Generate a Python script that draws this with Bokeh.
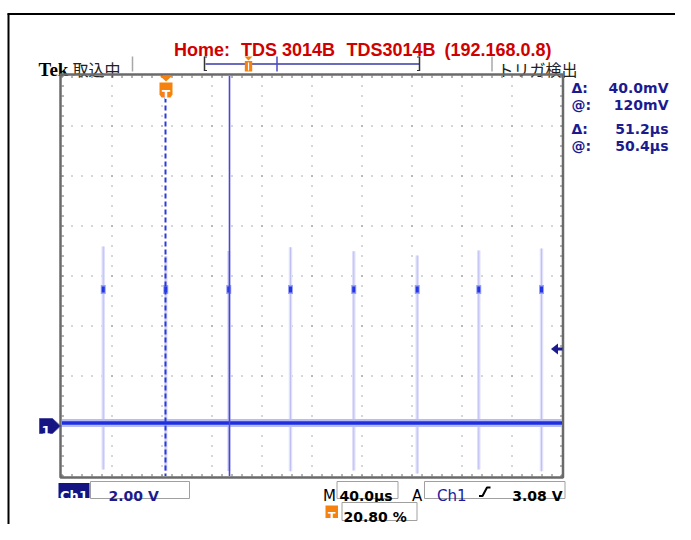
from bokeh.plotting import figure
from bokeh.models import Range1d
from bokeh.core.properties import value
from bokeh.embed import file_html
from bokeh.resources import INLINE

# ---------------- data ----------------
TIME_PER_DIV = 40.0                 # µs / div
VOLTS_PER_DIV = 2.0
N_HDIV = 10
N_VDIV = 8
GROUND_DIV = 1                      # Ch1 ground marker, divisions above the bottom
trace_level_v = 0.12
spike_times_us = [33.0, 83.0, 133.4, 182.8, 233.4, 284.2, 333.4, 383.6]
spike_peak_v = [5.46, 5.46, 5.46, 5.46, 5.46, 5.46, 5.46, 5.46]
spike_top_v = [7.18, 6.80, 7.00, 7.15, 6.99, 6.82, 7.02, 7.10]
spike_bottom_v = [-1.74, -1.80, -1.80, -1.81, -1.78, -1.90, -1.74, -1.81]
cursor_t_us = [82.8, 134.0]
trigger_pos_us = 83.2
trigger_level_v = 3.08
title_parts = ["Home:", "TDS 3014B", "TDS3014B", "(192.168.0.8)"]
readout_labels = ["Δ:", "@:", "Δ:", "@:"]
readout_values = ["40.0mV", "120mV", "51.2µs", "50.4µs"]
ch_scale_text = "2.00 V"
time_scale_text = "40.0µs"
trig_level_text = "3.08 V"
trig_pos_text = "20.80 %"

# ---------------- layout ----------------
W, H = 675, 524
OFF = 0                      # picture offset of the canvas
GX0, GY0 = 61.5, 75.5        # grid top-left in canvas px
DIV = 50.0                   # px per division

top_v = (N_VDIV - GROUND_DIV) * VOLTS_PER_DIV
bot_v = -GROUND_DIV * VOLTS_PER_DIV
x_start = -GX0 / DIV * TIME_PER_DIV
x_end = (W - GX0) / DIV * TIME_PER_DIV
y_end = top_v + GY0 / DIV * VOLTS_PER_DIV
y_start = top_v - (H - GY0) / DIV * VOLTS_PER_DIV


def X(px):  # picture px -> data
    return (px - OFF - GX0) / DIV * TIME_PER_DIV


def Y(py):
    return top_v - (py - OFF - GY0) / DIV * VOLTS_PER_DIV


p = figure(width=W, height=H, x_range=Range1d(x_start, x_end), y_range=Range1d(y_start, y_end),
           output_backend="svg", toolbar_location=None, min_border=0,
           x_axis_location=None, y_axis_location=None)
p.grid.visible = False
p.outline_line_color = None
p.background_fill_color = "white"
p.border_fill_color = "white"


def seg(x0, y0, x1, y1, color, w=1.0, dash="solid"):
    p.segment(x0=[x0], y0=[y0], x1=[x1], y1=[y1], line_color=color, line_width=w, line_dash=dash)


def box(px0, py0, px1, py1, fill, line=None, lw=1.0):
    p.quad(left=[X(px0)], right=[X(px1)], top=[Y(py0)], bottom=[Y(py1)],
           fill_color=fill, line_color=line, line_width=lw)


def txt(px, py, s, font="DejaVu Sans", size=14, color="black", style="normal", align="left",
        baseline="alphabetic"):
    p.text(x=[X(px)], y=[Y(py)], text=[s], text_font=value(font), text_font_size=f"{size}px",
           text_font_style=style, text_color=color, text_align=align, text_baseline=baseline)


NAVY = "#1b1b8f"
ORANGE = "#f5820f"
GRAY = "#5e5e5e"

# outer frame
seg(X(7), Y(13.5), X(691), Y(13.5), "black", 2)
seg(X(8), Y(13), X(8), Y(540), "black", 2)

# title
title_x = [173.5, 240.5, 346, 444]
for s, xx in zip(title_parts, title_x):
    txt(xx, 49.5, s, font="Liberation Sans", size=18, color="#d00000", style="bold")

# status line
txt(38, 69, "Tek", font="Liberation Serif", size=19, style="bold")
txt(72, 68.5, "取込中", font="Noto Sans CJK JP", size=16, color="#222222")
seg(X(132), Y(56), X(132), Y(71), "#a8a8a8", 1.5)
seg(X(491.5), Y(56), X(491.5), Y(71), "#a8a8a8", 1.5)
txt(497, 68.5, "トリガ検出", font="Noto Sans CJK JP", size=16, color="#222222")

# record bar
seg(X(205), Y(63.5), X(418.5), Y(63.5), "#3a3aa8", 1.5)
seg(X(204), Y(56), X(204), Y(70.5), "#333333", 1.5)
seg(X(204), Y(56.5), X(206.5), Y(56.5), "#333333", 1)
seg(X(204), Y(70), X(206.5), Y(70), "#333333", 1)
seg(X(419), Y(56), X(419), Y(70.5), "#333333", 1.5)
seg(X(416.5), Y(56.5), X(419), Y(56.5), "#333333", 1)
seg(X(416.5), Y(70), X(419), Y(70), "#333333", 1)
seg(X(276.5), Y(56), X(276.5), Y(71), "#4a4ac8", 1.5)
p.patch(x=[X(244), X(252), X(248)], y=[Y(56), Y(56), Y(60)], fill_color=ORANGE, line_color=None)
box(244.3, 60.5, 251.7, 71, ORANGE)
seg(X(248), Y(62), X(248), Y(70), "white", 1.2)

# grid dots
vx = [[k * TIME_PER_DIV, k * TIME_PER_DIV] for k in range(1, N_HDIV)]
vy = [[Y(75), bot_v] for k in range(1, N_HDIV)]
p.multi_line(xs=vx, ys=vy, line_color=GRAY, line_width=1, line_dash="1 9")
hy = [[bot_v + k * VOLTS_PER_DIV] * 2 for k in range(1, N_VDIV)]
hx = [[X(61), N_HDIV * TIME_PER_DIV] for k in range(1, N_VDIV)]
p.multi_line(xs=hx, ys=hy, line_color=GRAY, line_width=1, line_dash="1 9")

# graticule border with ruler ticks
p.quad(left=[X(60)], right=[X(562.5)], top=[Y(74)], bottom=[Y(477)], fill_color=None,
       line_color="#6a6a6a", line_width=2.5)
tx0, tx1, ty0, ty1 = [], [], [], []
for k in range(0, 5 * N_HDIV + 1):
    xx = X(61.5 + 10 * k)
    tx0 += [xx, xx]; tx1 += [xx, xx]
    ty0 += [Y(75), Y(476)]; ty1 += [Y(77.5), Y(473.5)]
for k in range(0, 5 * N_VDIV + 1):
    yy = Y(75.5 + 10 * k)
    tx0 += [X(61), X(562)]; tx1 += [X(63.5), X(559.5)]
    ty0 += [yy, yy]; ty1 += [yy, yy]
p.segment(x0=tx0, y0=ty0, x1=tx1, y1=ty1, line_color="#6a6a6a", line_width=1)

# spikes (faint persistence) and their dots
p.segment(x0=spike_times_us, y0=spike_top_v, x1=spike_times_us, y1=spike_bottom_v,
          line_color="#e0e0fb", line_width=3.5)
p.segment(x0=spike_times_us, y0=spike_top_v, x1=spike_times_us, y1=spike_bottom_v,
          line_color="#c0c0f4", line_width=1)
p.rect(x=spike_times_us, y=spike_peak_v, width=5, height=9, width_units="screen",
       height_units="screen", fill_color="#9aa2f4", line_color=None)
p.rect(x=spike_times_us, y=spike_peak_v, width=3, height=6, width_units="screen",
       height_units="screen", fill_color="#2236e6", line_color=None)

# trace
p.line(x=[0, N_HDIV * TIME_PER_DIV], y=[trace_level_v, trace_level_v], line_color="#b8bcf6", line_width=8)
p.line(x=[0, N_HDIV * TIME_PER_DIV], y=[trace_level_v, trace_level_v], line_color="#1f2fe0", line_width=3.5)

# cursors
seg(cursor_t_us[0], Y(97), cursor_t_us[0], bot_v, "#2a3ad8", 2, "5 3")
seg(cursor_t_us[1], top_v, cursor_t_us[1], bot_v, "#4848d0", 1.6)

# trigger position marker
tp = trigger_pos_us
dx = lambda d: tp + d / DIV * TIME_PER_DIV
p.patch(x=[dx(-6), dx(6), dx(0)], y=[Y(75.5), Y(75.5), Y(81)], fill_color=ORANGE, line_color=None)
p.patch(x=[dx(-6.5), dx(6.5), dx(6.5), dx(4.5), dx(-4.5), dx(-6.5)],
        y=[Y(82), Y(82), Y(94), Y(97), Y(97), Y(94)], fill_color=ORANGE, line_color=None)
p.text(x=[tp], y=[Y(94.5)], text=["T"], text_font=value("DejaVu Sans"), text_font_size="12px",
       text_font_style="bold", text_color="white", text_align="center", text_baseline="alphabetic")

# trigger level arrow
tl = trigger_level_v
p.patch(x=[X(550.5), X(557.5), X(557.5)], y=[tl, tl + 5.5 / DIV * VOLTS_PER_DIV, tl - 5.5 / DIV * VOLTS_PER_DIV],
        fill_color=NAVY, line_color=None)
seg(X(557), tl, X(562), tl, NAVY, 3)

# Ch1 ground marker
g = 0.0
dv = lambda d: g + d / DIV * VOLTS_PER_DIV
p.patch(x=[X(39), X(52), X(60), X(52), X(39)], y=[dv(7.5), dv(7.5), g, dv(-7.5), dv(-7.5)],
        fill_color="#141482", line_color="#5050a0", line_width=1)
p.text(x=[X(45.5)], y=[dv(-4.8)], text=["1"], text_font=value("DejaVu Sans"), text_font_size="13px",
       text_font_style="bold", text_color="white", text_align="center", text_baseline="alphabetic")

# readouts (right)
ry = [87, 104, 128.5, 145]
for lab, val, yy in zip(readout_labels, readout_values, ry):
    txt(571, yy, lab, size=14, color=NAVY, style="bold")
    txt(668, yy, val, size=14, color=NAVY, style="bold", align="right")

# bottom status
box(58, 482.5, 89, 497.5, "#141482")
txt(73.5, 495, "Ch1", size=13, color="white", style="bold", align="center")
box(90, 481, 189, 498, "white", "#a0a0a0", 1)
txt(108, 495.5, ch_scale_text, size=14, color=NAVY, style="bold")
txt(322.5, 495.5, "M", size=15, color="black")
box(336.5, 481, 397.5, 498, "white", "#a0a0a0", 1)
txt(339, 495.5, time_scale_text, size=14, color="black", style="bold")
txt(411.5, 495.5, "A", size=15, color="black")
box(424, 481, 564.5, 498, "white", "#a0a0a0", 1)
txt(436.5, 495.5, "Ch1", size=15, color="#1a1aa0")
p.line(x=[X(478.5), X(482), X(486.5), X(490)], y=[Y(495.5), Y(495.5), Y(487), Y(487)],
       line_color="black", line_width=2)
txt(562, 495.5, trig_level_text, size=14, color="black", style="bold", align="right")

# trigger-position row (moved up a little so it fits the canvas)
RB = 502
box(325, RB + 3, 337.5, RB + 15.5, ORANGE)
txt(331.2, RB + 13.5, "T", size=11, color="white", style="bold", align="center")
box(341.5, RB, 416.5, RB + 18, "white", "#a0a0a0", 1)
txt(343, RB + 14, trig_pos_text, size=14, color="black", style="bold")

open("out.html", "w").write(file_html(p, INLINE))
